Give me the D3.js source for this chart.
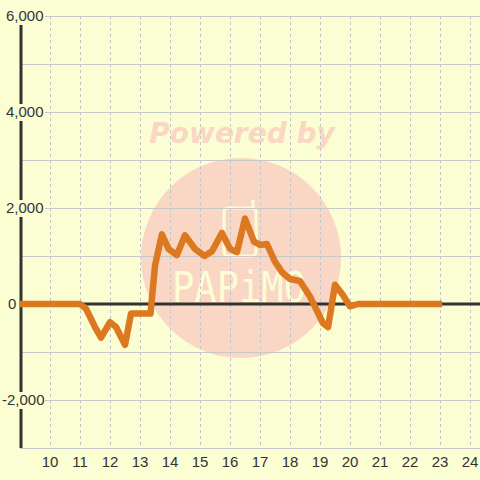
<!DOCTYPE html>
<html>
<head>
<meta charset="utf-8">
<script src="https://cdn.jsdelivr.net/npm/d3@7"></script>
<style>
  html, body { margin: 0; padding: 0; background: #fbfdd3; }
  svg { display: block; }
</style>
</head>
<body>
<div id="chart"></div>
<script>
// hour of day -> value
const hours = [9.0, 11.0, 11.2, 11.5, 11.7, 12.0, 12.2, 12.5, 12.7, 13.25, 13.35, 13.5, 13.73,
  13.95, 14.23, 14.5, 14.83, 15.15, 15.4, 15.73, 16.0, 16.23, 16.5, 16.8, 17.0, 17.23,
  17.5, 17.75, 18.0, 18.33, 18.67, 19.1, 19.27, 19.5, 19.75, 20.0, 20.27, 23.07];
const values = [0, 0, -100, -480, -700, -380, -480, -850, -200, -200, -200, 800, 1450,
  1150, 1020, 1430, 1150, 1000, 1100, 1480, 1150, 1080, 1780, 1300, 1230, 1250,
  880, 650, 520, 480, 150, -400, -480, 400, 200, -50, 0, 0];

const xTicks = [10, 11, 12, 13, 14, 15, 16, 17, 18, 19, 20, 21, 22, 23, 24];
const yGrid = [-3000, -2000, -1000, 1000, 2000, 3000, 4000, 5000, 6000];
const yLabels = [6000, 4000, 2000, 0, -2000];

const W = 480, H = 480;
const bg = "#fbfdd3";

const x = d3.scaleLinear().domain([9, 24.333]).range([20, 480]);
const y = d3.scaleLinear().domain([-3000, 6000]).range([448, 16]);

const svg = d3.select("#chart").append("svg")
  .attr("width", W).attr("height", H);

svg.append("rect").attr("width", W).attr("height", H).attr("fill", bg);

// watermark
const wm = svg.append("g");
wm.append("circle").attr("cx", 241).attr("cy", 258).attr("r", 100).attr("fill", "#fad6c4");
wm.append("text")
  .attr("x", 242).attr("y", 143)
  .attr("text-anchor", "middle")
  .attr("font-family", "DejaVu Sans")
  .attr("font-weight", "bold").attr("font-style", "italic")
  .attr("font-size", 28)
  .attr("fill", "#fad6c4")
  .text("Powered by");
wm.append("rect").attr("x", 224).attr("y", 208).attr("width", 32).attr("height", 48)
  .attr("rx", 4).attr("fill", "none").attr("stroke", bg).attr("stroke-width", 3);
wm.append("line").attr("x1", 253).attr("x2", 253).attr("y1", 200).attr("y2", 208)
  .attr("stroke", bg).attr("stroke-width", 3);
wm.append("text")
  .attr("x", 172).attr("y", 302)
  .attr("font-family", "DejaVu Sans Mono")
  .attr("font-size", 42)
  .attr("textLength", 134).attr("lengthAdjust", "spacingAndGlyphs")
  .attr("fill", bg)
  .text("PAPiMO");

// vertical dashed grid
svg.append("g").selectAll("line")
  .data(xTicks)
  .enter().append("line")
  .attr("x1", d => x(d) + 0.5).attr("x2", d => x(d) + 0.5)
  .attr("y1", y(6000)).attr("y2", y(-3000))
  .attr("stroke", "#c4c4c4").attr("stroke-dasharray", "3,3");

// horizontal grid
svg.append("g").selectAll("line")
  .data(yGrid)
  .enter().append("line")
  .attr("x1", 20).attr("x2", W)
  .attr("y1", d => y(d) + 0.5).attr("y2", d => y(d) + 0.5)
  .attr("stroke", "#c8c8c8").attr("stroke-width", 1.2);

// axes
svg.append("line").attr("x1", 21).attr("x2", 21)
  .attr("y1", 24).attr("y2", y(-3000))
  .attr("stroke", "#333").attr("stroke-width", 3);
svg.append("line").attr("x1", 20).attr("x2", W)
  .attr("y1", y(0)).attr("y2", y(0))
  .attr("stroke", "#333").attr("stroke-width", 3);

// y labels with background
const fmt = d => d3.format(",")(d).replace("\u2212", "-");
const yl = svg.append("g").selectAll("g")
  .data(yLabels)
  .enter().append("g")
  .attr("transform", d => `translate(0,${y(d)})`);
yl.filter(d => d !== 0).append("rect")
  .attr("x", 0).attr("y", -8).attr("width", 45).attr("height", 17)
  .attr("fill", bg);
yl.append("text")
  .attr("x", d => d < 0 ? 2 : (d === 0 ? 8 : 6))
  .attr("dy", "0.36em")
  .attr("font-family", "Liberation Sans, Arial, sans-serif")
  .attr("font-size", 15)
  .attr("fill", "#333")
  .text(d => fmt(d));

// x labels
svg.append("g").selectAll("text")
  .data(xTicks)
  .enter().append("text")
  .attr("x", d => x(d))
  .attr("y", 467)
  .attr("text-anchor", "middle")
  .attr("font-family", "Liberation Sans, Arial, sans-serif")
  .attr("font-size", 15)
  .attr("fill", "#333")
  .text(d => d);

// series
const line = d3.line()
  .x((d, i) => x(hours[i]))
  .y(d => y(d));
svg.append("path")
  .datum(values)
  .attr("d", line)
  .attr("fill", "none")
  .attr("stroke", "#dc7820")
  .attr("stroke-width", 6.5)
  .attr("stroke-linejoin", "round");
</script>
</body>
</html>
